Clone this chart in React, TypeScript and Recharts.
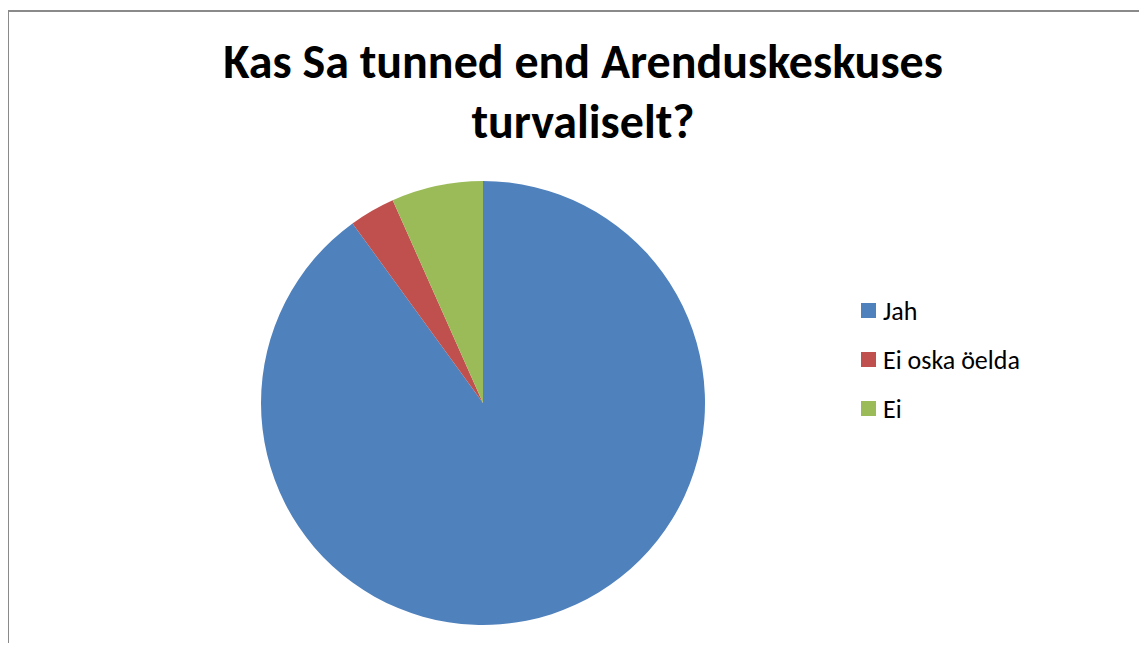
import React from "react";
import { PieChart, Pie, Cell, Legend } from "recharts";

const categories = ["Jah", "Ei oska öelda", "Ei"];
const values = [27, 1, 2];
const colors = ["#4F81BD", "#C0504D", "#9BBB59"];
const titleLines = ["Kas Sa tunned end Arenduskeskuses", "turvaliselt?"];

const data = categories.map((name, i) => ({ name, value: values[i] }));

const FONT = "Carlito, Calibri, 'Liberation Sans', Arial, sans-serif";

const renderLegend = (props: any) => {
  const payload = [...(props.payload || [])].sort(
    (a: any, b: any) => categories.indexOf(a.value) - categories.indexOf(b.value)
  );
  return (
    <div style={{ fontFamily: FONT }}>
      {payload.map((entry: any, i: number) => (
        <div
          key={i}
          style={{ display: "flex", alignItems: "center", height: 49, fontSize: 26, color: "#000" }}
        >
          <span
            style={{ display: "inline-block", width: 15, height: 15, background: entry.color, marginRight: 7 }}
          />
          <span>{entry.value}</span>
        </div>
      ))}
    </div>
  );
};

export default function App() {
  return (
    <div
      style={{
        position: "relative",
        left: -1,
        top: 2,
        width: 1141,
        height: 635,
        borderTop: "2px solid #8a8a8a",
        borderLeft: "2px solid #8a8a8a",
        boxSizing: "border-box",
        background: "#fff",
        overflow: "hidden",
      }}
    >
      <div
        style={{
          position: "absolute",
          left: 0,
          width: 1148,
          top: 20,
          textAlign: "center",
          fontFamily: FONT,
          fontWeight: "bold",
          fontSize: 48,
          lineHeight: "60px",
          color: "#000",
        }}
      >
        {titleLines.map((t, i) => (
          <div key={i}>{t}</div>
        ))}
      </div>
      <PieChart width={1139} height={633}>
        <Pie
          data={data}
          dataKey="value"
          nameKey="name"
          cx={469}
          cy={386}
          outerRadius={222}
          startAngle={90}
          endAngle={-270}
          stroke="none"
          isAnimationActive={false}
        >
          {data.map((d, i) => (
            <Cell key={i} fill={colors[i]} />
          ))}
        </Pie>
        <Legend
          content={renderLegend}
          wrapperStyle={{ position: "absolute", left: 852, top: 274, width: 250 }}
        />
      </PieChart>
    </div>
  );
}
